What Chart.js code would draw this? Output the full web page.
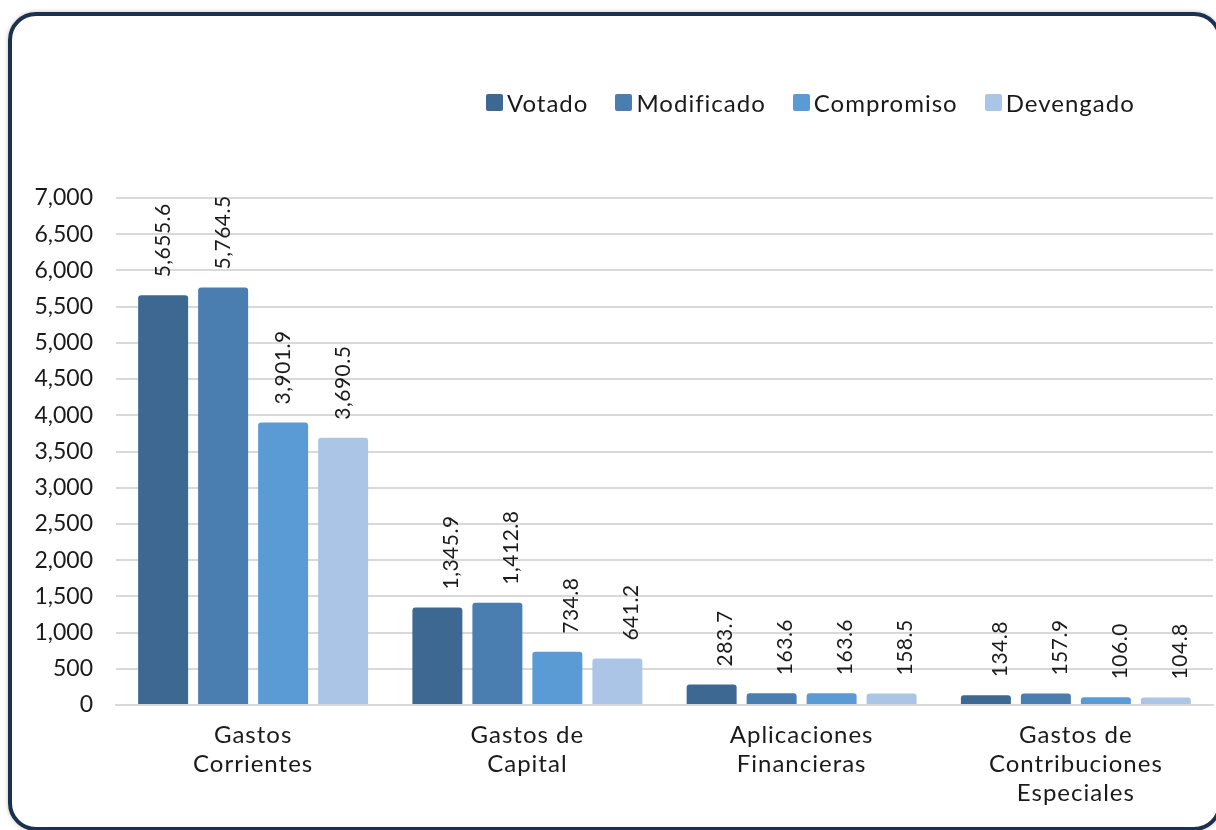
<!DOCTYPE html>
<html>
<head>
<meta charset="utf-8">
<script src="https://cdn.jsdelivr.net/npm/chart.js@4.4.1/dist/chart.umd.min.js"></script>
<style>
  html, body { margin: 0; padding: 0; background: #fff; }
  body { width: 1216px; height: 830px; position: relative; overflow: hidden; font-family: Lato, sans-serif; }
  .frame {
    position: absolute; left: 8px; top: 12px; width: 1214px; height: 819px;
    box-sizing: border-box; border: 4px solid #1c3050; border-radius: 28px;
    box-shadow: 0 0 4px rgba(0, 0, 0, 0.25);
  }
  #chart { position: absolute; left: 0; top: 0; }
  .legend { position: absolute; left: 486px; top: 88px; display: flex; gap: 27px; font-size: 24px; letter-spacing: 1px; color: #1a1a1a; }
  .legend-item { display: flex; align-items: center; gap: 4px; }
  .legend-box { width: 17px; height: 17px; border-radius: 2px; }
</style>
</head>
<body>
<div class="frame"></div>
<canvas id="chart" width="1216" height="830"></canvas>
<div class="legend" id="legend"></div>
<script>
// ===== DATA =====
const categories = [
  ["Gastos", "Corrientes"],
  ["Gastos de", "Capital"],
  ["Aplicaciones", "Financieras"],
  ["Gastos de", "Contribuciones", "Especiales"],
];
const seriesNames = ["Votado", "Modificado", "Compromiso", "Devengado"];
const votado = [5655.6, 1345.9, 283.7, 134.8];
const modificado = [5764.5, 1412.8, 163.6, 157.9];
const compromiso = [3901.9, 734.8, 163.6, 106.0];
const devengado = [3690.5, 641.2, 158.5, 104.8];
const yMax = 7000;
const yStep = 500;

const seriesColors = ["#3d6891", "#4a7eb0", "#5b9bd5", "#abc5e6"];
const seriesValues = [votado, modificado, compromiso, devengado];

function fmt(v) {
  return v.toLocaleString("en-US", { minimumFractionDigits: 1, maximumFractionDigits: 1 });
}

// ===== LEGEND (html) =====
const legendEl = document.getElementById("legend");
seriesNames.forEach((name, i) => {
  const item = document.createElement("div");
  item.className = "legend-item";
  item.innerHTML = `<span class="legend-box" style="background:${seriesColors[i]}"></span><span>${name}</span>`;
  legendEl.appendChild(item);
});

// ===== VALUE LABELS =====
const barLabels = {
  id: "barLabels",
  afterDatasetsDraw(chart, args, opts) {
    const ctx = chart.ctx;
    ctx.save();
    ctx.font = "21px Lato";
    ctx.letterSpacing = "0.5px";
    ctx.fillStyle = "#1a1a1a";
    ctx.textAlign = "left";
    ctx.textBaseline = "middle";
    chart.data.datasets.forEach((ds, i) => {
      chart.getDatasetMeta(i).data.forEach((bar, j) => {
        ctx.save();
        ctx.translate(bar.x + (opts.shift[j] || 0), bar.y - opts.offset);
        ctx.rotate(-Math.PI / 2);
        ctx.fillText(fmt(ds.data[j]), 0, 0);
        ctx.restore();
      });
    });
    ctx.restore();
  },
};

// wider spacing for the category labels only
const xLabelSpacing = {
  id: "xLabelSpacing",
  beforeDraw(chart) {
    const sc = chart.scales.x;
    if (sc._spaced) return;
    const orig = sc.drawLabels;
    sc.drawLabels = function (area) {
      const ctx = this.ctx;
      const prev = ctx.letterSpacing;
      ctx.letterSpacing = "1px";
      orig.call(this, area);
      ctx.letterSpacing = prev || "0px";
    };
    sc._spaced = true;
  },
};

// ===== CHART =====
new Chart(document.getElementById("chart").getContext("2d"), {
  type: "bar",
  data: {
    labels: categories,
    datasets: seriesNames.map((name, i) => ({
      label: name,
      data: seriesValues[i],
      backgroundColor: seriesColors[i],
      borderRadius: { topLeft: 3, topRight: 3 },
      borderSkipped: "bottom",
      categoryPercentage: 0.875,
      barPercentage: 0.833,
    })),
  },
  options: {
    responsive: false,
    animation: false,
    devicePixelRatio: 1,
    layout: { padding: { left: 0, right: 3, top: 198, bottom: 0 } },
    plugins: {
      legend: { display: false },
      tooltip: { enabled: false },
      barLabels: { offset: 18, shift: [0, 14, 14, 14] },
    },
    scales: {
      x: {
        afterFit: (s) => { s.height = 125; },
        grid: { display: false },
        border: { display: true, color: "#d9d9d9", width: 2 },
        ticks: {
          color: "#1a1a1a",
          font: { family: "Lato", size: 24, lineHeight: 1.21 },
          padding: 8,
          maxRotation: 0,
        },
      },
      y: {
        min: 0,
        max: yMax,
        afterFit: (s) => { s.width = 116; },
        grid: { color: "#d9d9d9", lineWidth: 2, drawTicks: false },
        border: { display: false },
        ticks: {
          stepSize: yStep,
          color: "#1a1a1a",
          font: { family: "Lato", size: 23 },
          padding: 23,
          callback: (v) => v.toLocaleString("en-US"),
        },
      },
    },
  },
  plugins: [barLabels, xLabelSpacing],
});
</script>
</body>
</html>
